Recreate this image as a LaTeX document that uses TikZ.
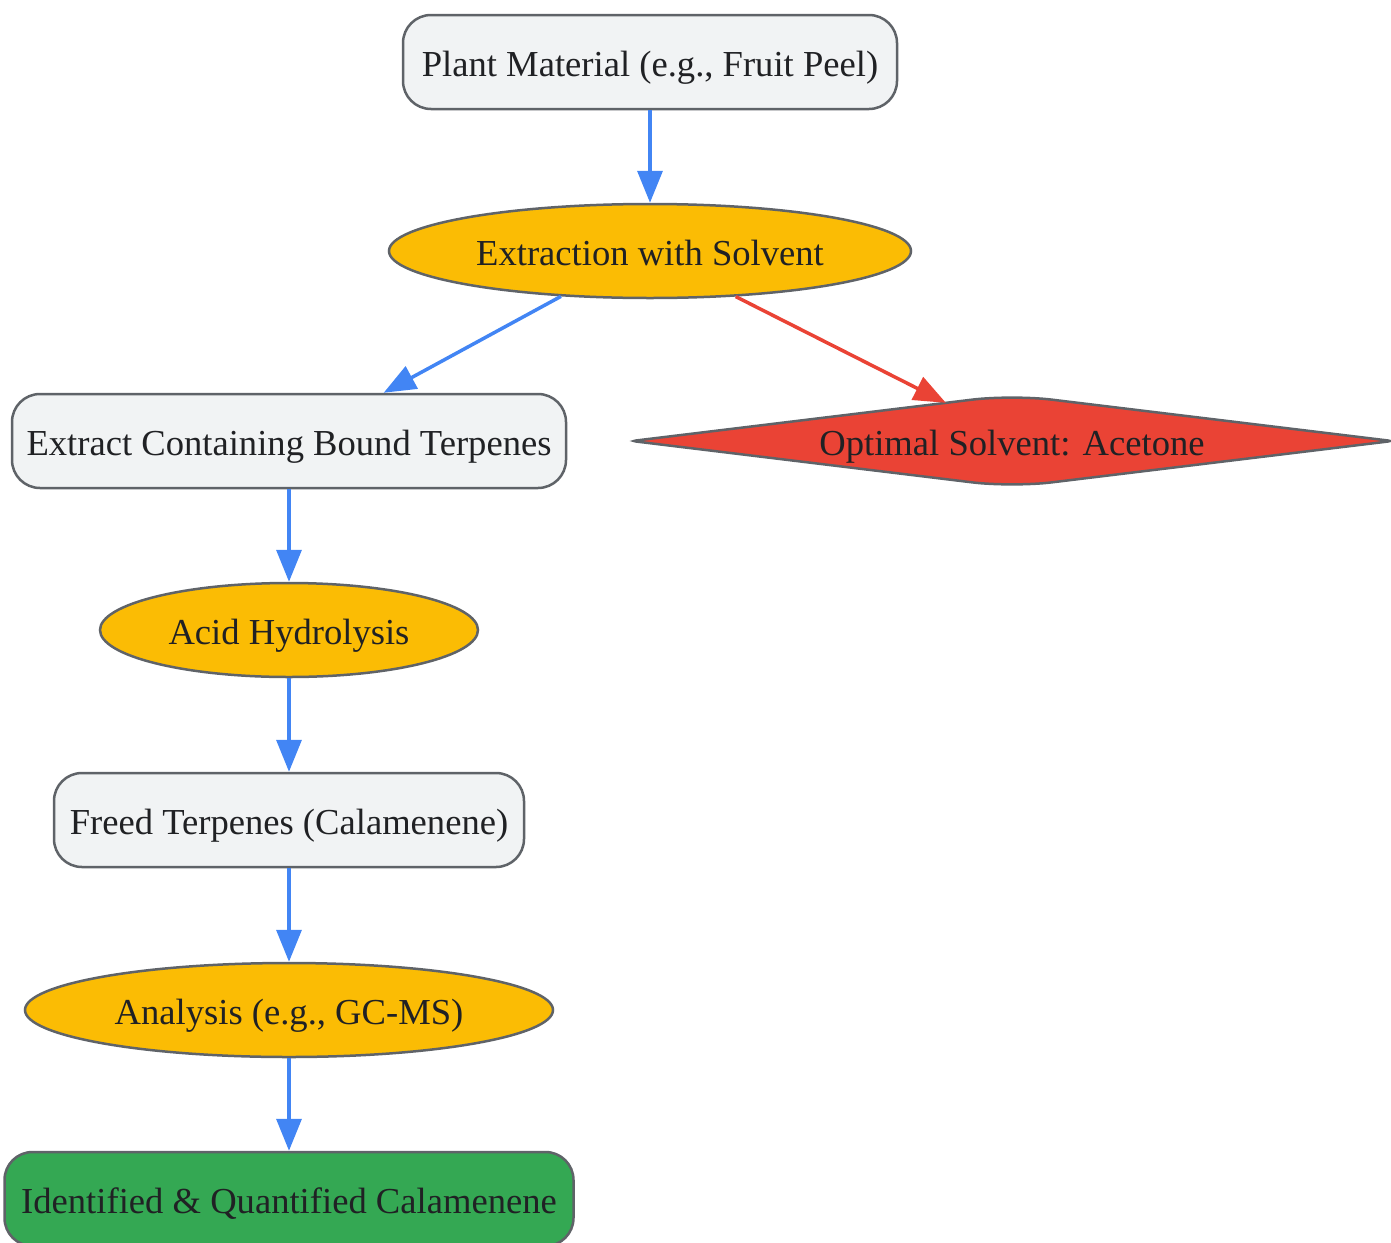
\documentclass[tikz,border=0pt]{standalone}
\usepackage{fontspec}
\setmainfont{Liberation Serif}
\usetikzlibrary{shapes.geometric,arrows.meta,calc}
\definecolor{boxgray}{HTML}{F1F3F4}
\definecolor{yel}{HTML}{FBBC04}
\definecolor{redc}{HTML}{EA4335}
\definecolor{greenc}{HTML}{34A853}
\definecolor{bluec}{HTML}{4285F4}
\definecolor{strk}{HTML}{5F6368}
\definecolor{txt}{HTML}{202124}
\tikzset{
  lbl/.style={text=txt, font=\fontsize{36.6}{40}\selectfont, text height=28pt, text depth=0pt},
  base/.style={lbl, draw=strk, line width=2.5pt, inner sep=0pt, minimum height=94pt},
  box/.style={base, rectangle, rounded corners=28pt, fill=boxgray},
  oval/.style={base, ellipse, fill=yel},
  flow/.style={draw=bluec, line width=3.5pt, -{Triangle[length=32pt,width=25pt]}},
  flowred/.style={draw=redc, line width=3.5pt, -{Triangle[length=32pt,width=25pt]}},
}
\begin{document}
\begin{tikzpicture}[x=1pt,y=-1pt]
\useasboundingbox (0,0) rectangle (1391,1242);
\node[box, minimum width=494pt] (plant) at (650,62) {Plant Material (e.g., Fruit Peel)};
\node[oval, minimum width=522pt] (extr) at (650,251) {Extraction with Solvent};
\node[box, minimum width=554pt] (bound) at (289,441) {Extract Containing Bound Terpenes};
\node[shape=diamond, inner sep=0pt, minimum width=760pt, minimum height=92pt] (opt) at (1012,441) {};
\draw[draw=strk, line width=2.5pt, fill=redc]
  ($(opt.west)!0.5!(opt.north)$) [rounded corners=40pt] -- (opt.north) -- ($(opt.north)!0.5!(opt.east)$)
  [rounded corners=4pt] -- (opt.east) -- ($(opt.east)!0.5!(opt.south)$)
  [rounded corners=40pt] -- (opt.south) -- ($(opt.south)!0.5!(opt.west)$)
  [rounded corners=4pt] -- (opt.west) -- cycle;
\node[lbl, inner sep=0pt] (optlabel) at (opt.center) {Optimal Solvent: Acetone};
\node[oval, minimum width=378pt] (acid) at (289,630) {Acid Hydrolysis};
\node[box, minimum width=470pt] (freed) at (289,820) {Freed Terpenes (Calamenene)};
\node[oval, minimum width=528pt] (anal) at (289,1010) {Analysis (e.g., GC-MS)};
\node[box, minimum width=569pt, fill=greenc] (ident) at (289,1199) {Identified \& Quantified Calamenene};

\draw[flow] (plant.south) -- (extr.north);
\draw[flow] (extr.207.6) -- (bound.27.8);
\draw[flowred] (extr.332) -- (opt.150);
\draw[flow] (bound.south) -- (acid.north);
\draw[flow] (acid.south) -- (freed.north);
\draw[flow] (freed.south) -- (anal.north);
\draw[flow] (anal.south) -- (ident.north);
\end{tikzpicture}
\end{document}
